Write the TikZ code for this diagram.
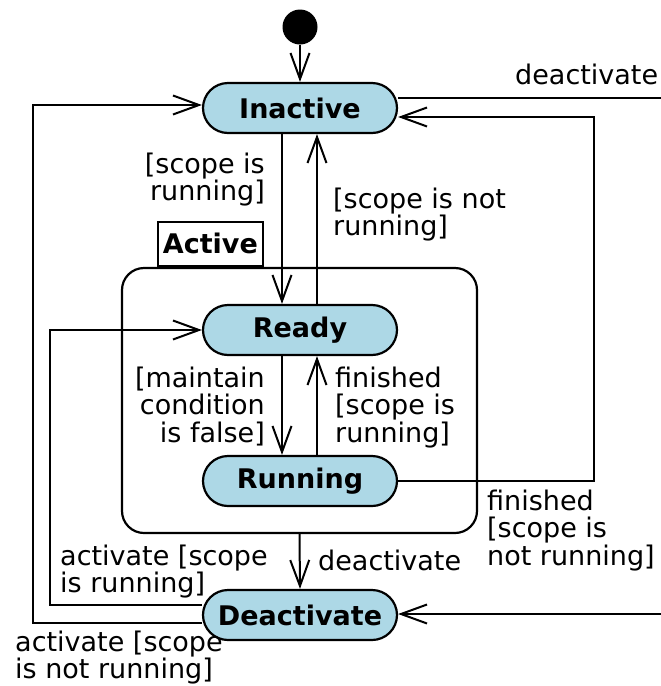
\documentclass[tikz,border=0pt]{standalone}
\usepackage{fontspec}
\setmainfont{DejaVu Sans}
\usetikzlibrary{arrows.meta,positioning}

\definecolor{statefill}{RGB}{173,216,230}
\tikzset{
  umlstate/.style={draw, line width=2.2pt, fill=statefill, rounded corners=25pt,
    minimum width=194pt, minimum height=50pt, inner sep=0pt,
    font=\fontsize{27}{28}\selectfont\bfseries},
  compound/.style={draw, line width=2.2pt, rounded corners=22pt,
    minimum width=355pt, minimum height=265pt, inner sep=0pt},
  tabbox/.style={draw, line width=2pt, minimum width=105pt, minimum height=44pt,
    inner sep=0pt, font=\fontsize{27}{28}\selectfont\bfseries},
  lbl/.style={inner sep=0pt, font=\fontsize{27}{27.5}\selectfont},
  trans/.style={line width=2pt, -{Straight Barb[length=26pt,width=19pt]}},
  plain/.style={line width=2pt}
}

\begin{document}
\begin{tikzpicture}[x=1pt,y=1pt,yscale=-1]
\useasboundingbox (0,0) rectangle (661,686);

%Composite State
\node [compound] (active) at (299.5,400.5) {};
\node [tabbox, anchor=south west] (activetab) at ([xshift=36pt]active.north west) {Active};

%States
\node [circle, fill=black, minimum size=35pt, inner sep=0pt] (start) at (300,27) {};
\node [umlstate] (inactive) at (300,108) {Inactive};
\node [umlstate] (ready) at (300,330) {Ready};
\node [umlstate] (running) at (300,481) {Running};
\node [umlstate] (deactivate) at (300,615) {Deactivate};

%Loose ends and bends (shifts follow yscale=-1: positive is down)
\coordinate (exitR) at (661,98);
\coordinate (entryR) at (661,614);
\coordinate (rloop) at (594,300);
\coordinate (inEntry) at ([yshift=9pt]inactive.east);
\coordinate (lloopA) at (50,450);
\coordinate (lloopB) at (33,450);

%Transitions
\draw [trans] (start) -- (inactive);
\draw [trans] ([xshift=-18pt]inactive.south) -- ([xshift=-18pt]ready.north);
\draw [trans] ([xshift=17pt]ready.north) -- ([xshift=17pt]inactive.south);
\draw [trans] ([xshift=-18pt]ready.south) -- ([xshift=-18pt]running.north);
\draw [trans] ([xshift=17pt]running.north) -- ([xshift=17pt]ready.south);
\draw [trans] (running.east) -| (rloop |- inEntry) -- (inEntry);
\draw [plain] ([yshift=-10pt]inactive.east) -- (exitR);
\draw [trans] (entryR) -- (deactivate.east |- entryR);
\draw [trans] (active.south) -- (deactivate.north);
\draw [trans] ([yshift=-10pt]deactivate.west) -| (lloopA) |- (ready.west);
\draw [trans] ([yshift=8pt]deactivate.west) -| (lloopB) |- ([yshift=-3pt]inactive.west);

% Text Node
\node [lbl, anchor=north west] (lblexit) at (515,63.5) {deactivate};
% Text Node
\node [lbl, anchor=north east, align=right] (lblinready) at (265,152.5) {[scope is\\running]};
% Text Node
\node [lbl, anchor=north west, align=left] (lblreadyin) at (333,187.5) {[scope is not\\running]};
% Text Node
\node [lbl, anchor=north east, align=right] (lblreadyrun) at (265,366.5) {[maintain\\condition\\is false]};
% Text Node
\node [lbl, anchor=north west, align=left] (lblrunready) at (335,366.5) {finished\\{[}scope is\\running]};
% Text Node
\node [lbl, anchor=north west, align=left] (lblrunin) at (487,489.5) {finished\\{[}scope is\\not running]};
% Text Node
\node [lbl, anchor=north west, align=left] (lbldeactready) at (60,544.5) {activate [scope\\is running]};
% Text Node
\node [lbl, anchor=north west] (lblactdeact) at (318,549.5) {deactivate};
% Text Node
\node [lbl, anchor=north west, align=left] (lbldeactin) at (15,630.5) {activate [scope\\is not running]};
\end{tikzpicture}
\end{document}
